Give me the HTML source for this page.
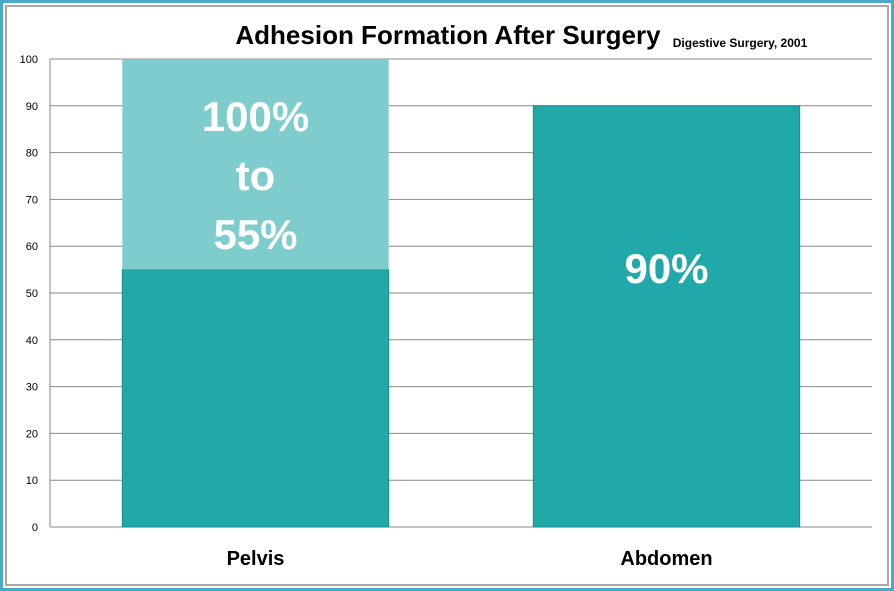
<!DOCTYPE html>
<html><head><meta charset="utf-8"><style>
body{margin:0;background:#fff}
svg{display:block;font-family:"Liberation Sans",sans-serif}
</style></head><body>
<svg width="894" height="591">
<rect x="1.5" y="1.5" width="891" height="588" fill="#fff" stroke="#4aa9c4" stroke-width="3"/>
<rect x="6" y="6" width="882" height="579" fill="#fff" stroke="#a8a8a8" stroke-width="2"/>
<text x="448" y="44" text-anchor="middle" font-size="26" font-weight="bold">Adhesion Formation After Surgery</text>
<text x="740" y="47" text-anchor="middle" font-size="12" font-weight="bold">Digestive Surgery, 2001</text>
<g id="grid"></g><g id="bars"></g><g id="labels"></g>
</svg>
<script>
const categories=["Pelvis","Abdomen"];
const baseValues=[55,90];
const topValues=[45,0];
const barLabels=[["100%","to","55%"],["90%"]];
const ticks=[0,10,20,30,40,50,60,70,80,90,100];
const NS="http://www.w3.org/2000/svg";
const X0=50,X1=872,Y0=527,Y1=59,ymax=100;
const y=v=>Y0-(v/ymax)*(Y0-Y1);
const band=(X1-X0)/categories.length;
const bw=band*0.648;
const xc=i=>X0+band*(i+0.5);
function mk(t,a,p){const e=document.createElementNS(NS,t);for(const k in a)e.setAttribute(k,a[k]);p.appendChild(e);return e;}
const g=document.getElementById('grid'),b=document.getElementById('bars'),l=document.getElementById('labels');
ticks.forEach(t=>{
 const ln=mk('line',{x1:X0,x2:X1,y1:y(t),y2:y(t),stroke:'#888','stroke-width':1},g);
 
 
 const tx=mk('text',{x:38,y:y(t)+4,'text-anchor':'end','font-size':11},g);tx.textContent=t;
 
 
});
const ax=mk('line',{x1:X0,x2:X0,y1:Y1,y2:Y0,stroke:'#888'},g);


categories.forEach((c,i)=>{
 const x=xc(i)-bw/2;
 const r1=mk('rect',{x:x,y:y(baseValues[i]),width:bw,height:Y0-y(baseValues[i]),fill:'#21a8a8',stroke:'#1b8c8c'},b);
 
 
 if(topValues[i]>0){
  const r2=mk('rect',{x:x,y:y(baseValues[i]+topValues[i]),width:bw,height:y(baseValues[i])-y(baseValues[i]+topValues[i]),fill:'#7ecccc'},b);
  
  
 }
 const tl=mk('text',{x:xc(i),y:565,'text-anchor':'middle','font-size':20,'font-weight':'bold'},l);tl.textContent=c;
 
 
 const lines=barLabels[i];
 const total=baseValues[i]+topValues[i];
 lines.forEach((s,k)=>{
  const t=mk('text',{x:xc(i),y:(lines.length>1?y(total)+72+k*59:y(total)+177),'text-anchor':'middle','font-size':42,'font-weight':'bold',fill:'#fff'},l);
  t.textContent=s;
  
  
 });
});
</script>
</body></html>
